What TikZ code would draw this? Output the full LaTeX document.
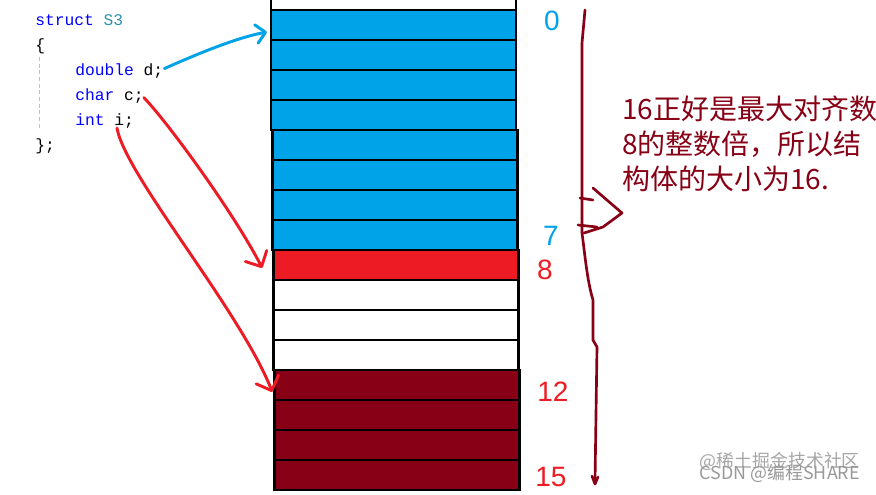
\documentclass[tikz,border=0pt]{standalone}
\usepackage{fontspec}
\usepackage{xcolor}
\usepackage{tikz}
\usetikzlibrary{arrows.meta,calc}
\setmonofont{Liberation Mono}
\newfontfamily\handfont{Liberation Sans}
\newfontfamily\cjkfont{Noto Sans CJK SC}

\begin{document}
\begin{tikzpicture}[x=0.75pt,y=0.75pt,yscale=-1,xscale=1,
    cell/.style={draw, line width=2.2pt, inner sep=0pt, outer sep=0pt,
      minimum width=183.75pt, minimum height=22.5pt},
    code/.style={anchor=base west, inner sep=0pt,
      font=\ttfamily\fontsize{12.2}{15}\selectfont},
    idx/.style={inner sep=0.75pt, font=\handfont\fontsize{21}{21}\selectfont},
    ink/.style={line width=2.2pt, line cap=round, line join=round},
    barb/.style={-{Straight Barb[length=#1, width=2*#1, line cap=round, line join=round]}}]
        \path[use as bounding box, fill=white] (0,0) rectangle (876,494);

        %Shape: Rectangle, cut by the top edge
        \node[cell, fill=white] (ctop) at (393.5,-5) {};
        %Shape: Rectangles, one per byte
        \foreach \i/\fc in {0/{rgb, 255:red, 0; green, 162; blue, 232},
                            1/{rgb, 255:red, 0; green, 162; blue, 232},
                            2/{rgb, 255:red, 0; green, 162; blue, 232},
                            3/{rgb, 255:red, 0; green, 162; blue, 232},
                            4/{rgb, 255:red, 0; green, 162; blue, 232},
                            5/{rgb, 255:red, 0; green, 162; blue, 232},
                            6/{rgb, 255:red, 0; green, 162; blue, 232},
                            7/{rgb, 255:red, 0; green, 162; blue, 232},
                            8/{rgb, 255:red, 237; green, 28; blue, 36},
                            9/white,10/white,11/white,
                            12/{rgb, 255:red, 136; green, 0; blue, 21},
                            13/{rgb, 255:red, 136; green, 0; blue, 21},
                            14/{rgb, 255:red, 136; green, 0; blue, 21},
                            15/{rgb, 255:red, 136; green, 0; blue, 21}}
          \node[cell, fill=\fc] (c\i) at ({393.5+1.1*int(\i/4)},{25+30*\i}) {};

        % Text Node
        \node[code] (lHead) at (35,25) {\textcolor[RGB]{0,0,255}{struct} \textcolor[RGB]{43,145,175}{S3}};
        % Text Node
        \node[code] (lOpen) at (35,50) {\{};
        % Text Node
        \node[code] (lDbl) at (75,75) {\textcolor[RGB]{0,0,255}{double} d;};
        % Text Node
        \node[code] (lChr) at (75,100) {\textcolor[RGB]{0,0,255}{char} c;};
        % Text Node
        \node[code] (lInt) at (75,125) {\textcolor[RGB]{0,0,255}{int} i;};
        % Text Node
        \node[code] (lClose) at (35,150) {\};};
        %Straight Lines: indent guide
        \draw[densely dashed, black!25, line width=0.6pt] (39,57) -- (39,130);

        % Text Node
        \node[idx, text={rgb, 255:red, 0; green, 162; blue, 232}] (n0) at (552,21) {0};
        % Text Node
        \node[idx, text={rgb, 255:red, 0; green, 162; blue, 232}] (n7) at (551,236) {7};
        % Text Node
        \node[idx, text={rgb, 255:red, 237; green, 28; blue, 36}] (n8) at (545,270) {8};
        % Text Node
        \node[idx, text={rgb, 255:red, 237; green, 28; blue, 36}] (n12) at (553,392) {12};
        % Text Node
        \node[idx, text={rgb, 255:red, 237; green, 28; blue, 36}] (n15) at (551,477) {15};

        %Curve Lines: d to byte 0
        \draw[ink, barb=7pt, draw={rgb, 255:red, 0; green, 162; blue, 232}]
          ($(lDbl.east)+(1,-2)$) .. controls (195,55) and (235,38) .. ($(c0.west)+(-4,7)$);
        %Curve Lines: c to byte 8
        \draw[ink, barb=9pt, draw={rgb, 255:red, 237; green, 28; blue, 36}]
          ($(lChr.east)+(0,2)$) .. controls (170,125) and (235,215) .. ($(c8.west)+(-11,3)$);
        %Curve Lines: i to byte 12
        \draw[ink, barb=9pt, draw={rgb, 255:red, 237; green, 28; blue, 36}]
          ($(lInt.base west)+(42,3)$) .. controls (125,175) and (240,310) .. ($(c12.west)+(-2,7)$);

        %Curve Lines: brace
        \draw[ink, line width=2pt, draw={rgb, 255:red, 136; green, 0; blue, 21}]
          (585,10) -- (582,43) -- (582,233) .. controls (585,255) and (587,280) .. (593,300)
          -- (593,340) -- (597,347) -- (595,483) ;
        \draw[ink, line width=2pt, draw={rgb, 255:red, 136; green, 0; blue, 21}]
          (580,198) -- (593,200) (593,188) -- (622,213) -- (603,227) -- (584,233)
          (578,225) -- (597,227) (592,476) -- (595,484) -- (598,477) ;

        % Text Node
        \node[anchor=north west, inner sep=0pt, align=left,
              text={rgb, 255:red, 136; green, 0; blue, 21},
              font=\cjkfont\fontsize{21}{26.25}\selectfont] (note) at (622,96)
          {16正好是最大对齐数\\8的整数倍，所以结\\构体的大小为16.};

        % Text Node: watermark
        \node[anchor=north east, inner sep=0pt, text=black!35,
              font=\cjkfont\fontsize{13.4}{13.4}\selectfont] (wm1) at (860,452) {@稀土掘金技术社区};
        % Text Node: watermark
        \node[anchor=north east, inner sep=0pt, text=black!40,
              font=\cjkfont\fontsize{13.4}{13.4}\selectfont] (wm2) at (860,464) {CSDN @编程SHARE};
\end{tikzpicture}
\end{document}
